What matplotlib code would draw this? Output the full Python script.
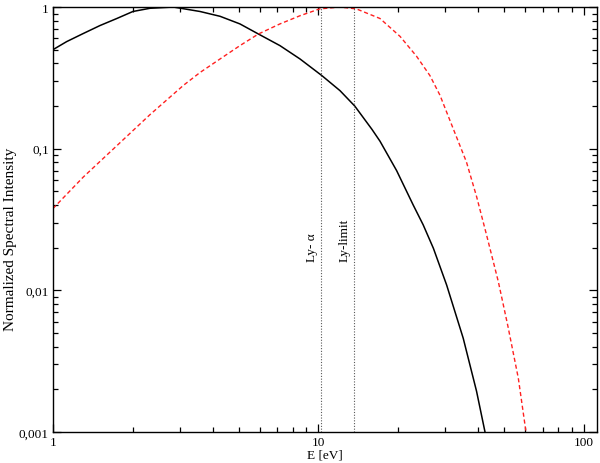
import matplotlib
matplotlib.use("Agg")
import matplotlib.pyplot as plt
from matplotlib.ticker import FuncFormatter, LogLocator, NullFormatter

plt.rcParams['font.family'] = ['Liberation Serif', 'DejaVu Serif']

# black spectrum
e_black = [1.0, 1.126, 1.30, 1.503, 1.74, 2.0, 2.32, 2.84, 3.58, 4.26, 5.06,
           5.94, 7.16, 8.52, 10.3, 12.05, 13.7, 15.9, 17.05, 19.7, 22.75,
           24.8, 27.1, 30.4, 35.1, 39.4, 42.4]
i_black = [0.50, 0.57, 0.65, 0.74, 0.83, 0.93, 0.98, 1.0, 0.93, 0.86, 0.76,
           0.645, 0.534, 0.43, 0.328, 0.257, 0.20, 0.137, 0.113, 0.070, 0.040,
           0.029, 0.0198, 0.0109, 0.00459, 0.00194, 0.001]

# red dashed spectrum
e_red = [1.0, 1.30, 1.74, 2.32, 3.10, 3.58, 4.26, 5.06, 5.94, 7.16, 8.52,
         10.1, 12.05, 13.9, 17.05, 20.3, 23.4, 26.3, 28.7, 32.2, 36.1, 39.4,
         43.0, 47.6, 51.7, 56.6, 60.5]
i_red = [0.0378, 0.063, 0.105, 0.174, 0.28, 0.345, 0.43, 0.534, 0.645, 0.76,
         0.868, 0.97, 1.0, 0.97, 0.83, 0.62, 0.45, 0.328, 0.238, 0.138, 0.0805,
         0.046, 0.0245, 0.0115, 0.0056, 0.0024, 0.001]

# marked lines
line_pos = [10.2, 13.6]
line_names = ["Ly- \u03b1", "Ly-limit"]

fig = plt.figure(figsize=(6, 4.64), dpi=100)
ax = fig.add_axes([0.0883, 0.0668, 0.9067, 0.9159])

ax.plot(e_black, i_black, color='black', lw=1.1)
ax.plot(e_red, i_red, color='#ff2020', lw=1.0, ls=(0, (3, 2)))

for xpos, name in zip(line_pos, line_names):
    ax.axvline(xpos, color='0.35', lw=0.8, ls=(0, (1, 1.5)))
    ax.text(xpos * 0.975, 0.016, name, rotation=90, ha='right', va='bottom',
            fontsize=9.5)

ax.set_xscale('log')
ax.set_yscale('log')
ax.set_xlim(1, 112)
ax.set_ylim(0.001, 1)

def comma_fmt(v, pos):
    s = ('%g' % v)
    if 'e' in s:
        s = '%.3f' % v
    return s.replace('.', ',')

ax.xaxis.set_major_formatter(FuncFormatter(comma_fmt))
ax.yaxis.set_major_formatter(FuncFormatter(comma_fmt))
ax.xaxis.set_minor_locator(LogLocator(base=10, subs=range(2, 10)))
ax.yaxis.set_minor_locator(LogLocator(base=10, subs=range(2, 10)))
ax.xaxis.set_minor_formatter(NullFormatter())
ax.yaxis.set_minor_formatter(NullFormatter())

ax.tick_params(which='both', direction='in', top=True, right=True,
               labelsize=9.5, width=0.9)
ax.tick_params(which='major', length=6, pad=3)
ax.tick_params(which='minor', length=3.5)
for sp in ax.spines.values():
    sp.set_linewidth(1.0)

ax.set_xlabel("E [eV]", fontsize=9.5, labelpad=0)
ax.set_ylabel("Normalized Spectral Intensity", fontsize=11)
ax.yaxis.set_label_coords(-0.066, 0.4565)

fig.savefig("out.png", dpi=100)
